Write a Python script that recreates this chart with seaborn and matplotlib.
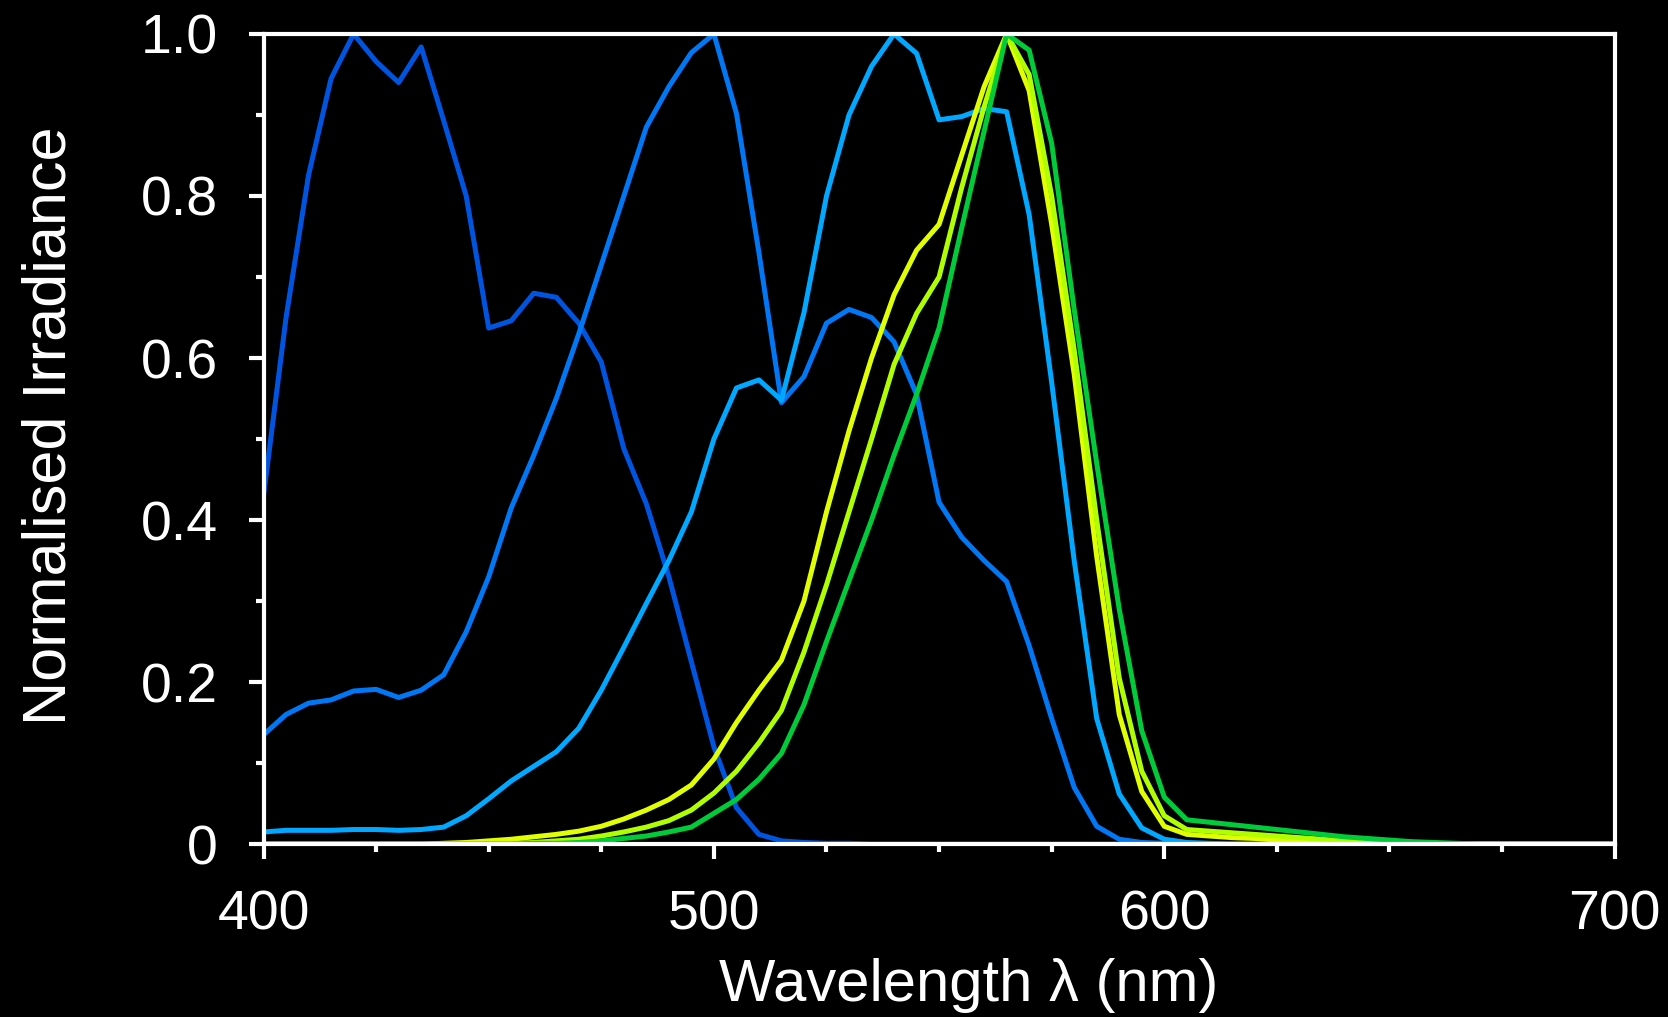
import numpy as np
import pandas as pd
import matplotlib
matplotlib.use("Agg")
import matplotlib.pyplot as plt
from matplotlib.ticker import MultipleLocator, FixedLocator, FuncFormatter
import seaborn as sns

# ---------------- data ----------------
wavelength = list(range(400, 705, 5))  # 400..700 nm, 61 points

royal_blue = [0.43, 0.65, 0.826, 0.945, 1.0, 0.966, 0.94, 0.984, 0.893, 0.80,
              0.637, 0.646, 0.68, 0.675, 0.643, 0.595, 0.488, 0.42, 0.33, 0.225,
              0.12, 0.045, 0.012, 0.004, 0.002, 0.001, 0.001] + [0.0] * 34

blue = [0.135, 0.16, 0.174, 0.178, 0.189, 0.191, 0.181, 0.19, 0.209, 0.262,
        0.33, 0.415, 0.48, 0.55, 0.63, 0.715, 0.80, 0.885, 0.935, 0.977,
        1.0, 0.902, 0.73, 0.545, 0.577, 0.643, 0.66, 0.65, 0.62, 0.555,
        0.422, 0.379, 0.35, 0.324, 0.245, 0.155, 0.07, 0.022, 0.006, 0.002,
        0.001] + [0.0] * 20

cyan = [0.015, 0.017, 0.017, 0.017, 0.018, 0.018, 0.017, 0.018, 0.021, 0.035,
        0.056, 0.078, 0.096, 0.114, 0.143, 0.19, 0.243, 0.297, 0.35, 0.41,
        0.50, 0.563, 0.573, 0.548, 0.656, 0.80, 0.90, 0.96, 1.0, 0.976,
        0.894, 0.898, 0.908, 0.904, 0.777, 0.57, 0.35, 0.155, 0.062, 0.02,
        0.006, 0.002, 0.001] + [0.0] * 18

yellow = [0.0] * 8 + [0.001, 0.002, 0.004, 0.006, 0.009, 0.012, 0.016, 0.022, 0.031, 0.042,
                      0.055, 0.073, 0.105, 0.15, 0.19, 0.227, 0.30, 0.41, 0.51, 0.60,
                      0.678, 0.733, 0.765, 0.85, 0.935, 1.0, 0.93, 0.765, 0.58, 0.355,
                      0.16, 0.065, 0.022, 0.012, 0.01, 0.008, 0.007, 0.005, 0.004, 0.003,
                      0.002, 0.001, 0.001] + [0.0] * 10

lime = [0.0] * 10 + [0.001, 0.001, 0.002, 0.004, 0.006, 0.01, 0.015, 0.021, 0.029, 0.042,
                     0.063, 0.09, 0.125, 0.165, 0.237, 0.32, 0.41, 0.50, 0.592, 0.655,
                     0.70, 0.81, 0.91, 1.0, 0.95, 0.80, 0.61, 0.40, 0.205, 0.09,
                     0.035, 0.018, 0.016, 0.014, 0.012, 0.01, 0.008, 0.006, 0.004, 0.003,
                     0.002, 0.001, 0.0] + [0.0] * 8

green = [0.0] * 12 + [0.001, 0.001, 0.002, 0.004, 0.007, 0.01, 0.015, 0.021, 0.038, 0.055,
                      0.08, 0.112, 0.172, 0.25, 0.325, 0.40, 0.48, 0.555, 0.637, 0.76,
                      0.88, 1.0, 0.98, 0.865, 0.66, 0.47, 0.29, 0.14, 0.058, 0.03,
                      0.027, 0.024, 0.021, 0.018, 0.015, 0.012, 0.009, 0.007, 0.005, 0.003,
                      0.002, 0.001, 0.0] + [0.0] * 6

series_names = ["royal blue", "blue", "cyan", "yellow", "lime", "green"]
series_values = [royal_blue, blue, cyan, yellow, lime, green]
series_colors = ["#0055e0", "#0078f5", "#00a8ff", "#e0ff00", "#b0ff00", "#00cc3a"]

x_ticks = [400, 500, 600, 700]
y_ticks = [0, 0.2, 0.4, 0.6, 0.8, 1.0]
y_tick_labels = ["0", "0.2", "0.4", "0.6", "0.8", "1.0"]

frames = []
for name, vals in zip(series_names, series_values):
    frames.append(pd.DataFrame({"wavelength": wavelength, "irradiance": vals, "source": name}))
df = pd.concat(frames, ignore_index=True)

# ---------------- style ----------------
sns.set_style("ticks")
plt.rcParams["font.family"] = ["Liberation Sans", "DejaVu Sans"]

fig = plt.figure(figsize=(16.68, 10.17), dpi=100)
fig.patch.set_facecolor("black")
ax = fig.add_axes([0.158, 0.170, 0.810, 0.7966])
ax.set_facecolor("black")

sns.lineplot(data=df, x="wavelength", y="irradiance", hue="source",
             hue_order=series_names, palette=series_colors, linewidth=3.6,
             estimator=None, legend=False, ax=ax)

ax.set_xlim(400, 700)
ax.set_ylim(0, 1.0)

for side in ["left", "right", "top", "bottom"]:
    ax.spines[side].set_color("white")
    ax.spines[side].set_linewidth(3)
    ax.spines[side].set_visible(True)

ax.xaxis.set_major_locator(FixedLocator(x_ticks))
ax.xaxis.set_minor_locator(MultipleLocator(25))
ax.yaxis.set_major_locator(FixedLocator(y_ticks))
ax.yaxis.set_minor_locator(MultipleLocator(0.1))
ax.set_yticklabels(y_tick_labels)
ax.set_xticklabels([str(v) for v in x_ticks])

ax.tick_params(which="major", direction="out", length=11, width=3, color="white",
               labelcolor="white", labelsize=40, pad=22)
ax.tick_params(which="minor", direction="out", length=6, width=3, color="white")
ax.tick_params(top=False, right=False, which="both")

ax.set_xlabel("Wavelength λ (nm)", color="white", fontsize=43)
ax.set_ylabel("Normalised Irradiance", color="white", fontsize=44)
ax.xaxis.set_label_coords(0.522, -0.141)
ax.yaxis.set_label_coords(-0.137, 0.517)
ax.grid(False)

fig.savefig("out.png", dpi=100, facecolor="black")
